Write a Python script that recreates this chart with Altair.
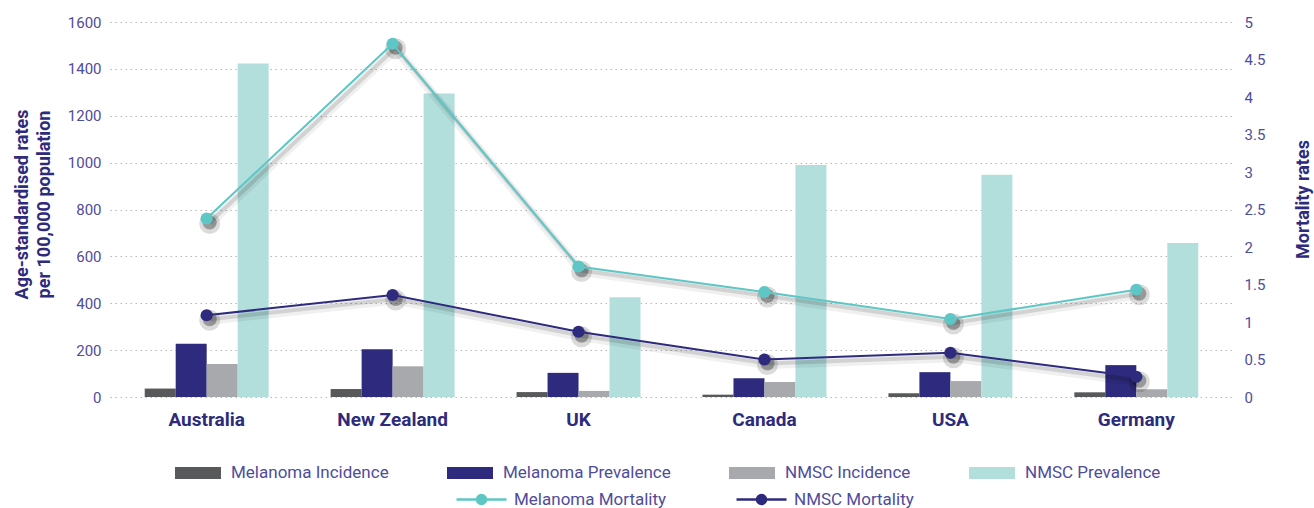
import altair as alt
import pandas as pd

countries = ["Australia", "New Zealand", "UK", "Canada", "USA", "Germany"]
melanoma_incidence = [36, 34, 21, 10, 16, 20]
melanoma_prevalence = [227, 204, 103, 80, 106, 136]
nmsc_incidence = [141, 131, 26, 64, 68, 33]
nmsc_prevalence = [1423, 1295, 426, 990, 948, 657]
melanoma_mortality = [2.38, 4.71, 1.74, 1.40, 1.04, 1.43]
nmsc_mortality = [1.09, 1.36, 0.87, 0.50, 0.59, 0.27]

bar_series = ["Melanoma Incidence", "Melanoma Prevalence", "NMSC Incidence", "NMSC Prevalence"]
bar_colors = ["#58595b", "#2e2a7d", "#a7a9ac", "#b2dfdc"]
line_series = ["Melanoma Mortality", "NMSC Mortality"]
line_colors = ["#5ec6c5", "#2e2a7d"]

left_ticks = [0, 200, 400, 600, 800, 1000, 1200, 1400, 1600]
right_ticks = [0, 0.5, 1, 1.5, 2, 2.5, 3, 3.5, 4, 4.5, 5]

bar_values = [melanoma_incidence, melanoma_prevalence, nmsc_incidence, nmsc_prevalence]
bars_df = pd.DataFrame(
    [{"country": c, "series": s, "value": v}
     for s, vals in zip(bar_series, bar_values) for c, v in zip(countries, vals)]
)
line_values = [melanoma_mortality, nmsc_mortality]
lines_df = pd.DataFrame(
    [{"country": c, "measure": s, "value": v}
     for s, vals in zip(line_series, line_values) for c, v in zip(countries, vals)]
)

FONT = "Roboto"
DARK = "#2e2a7c"
LABEL = "#4f4c9b"

x_enc = alt.X(
    "country:N", sort=countries,
    scale=alt.Scale(paddingInner=0, paddingOuter=0.02),
    axis=alt.Axis(title=None, labelAngle=0, labelFont=FONT, labelFontSize=19,
                  labelFontWeight="bold", labelColor=DARK, labelPadding=13,
                  domain=False, ticks=False, grid=False),
)

bars = alt.Chart(bars_df).mark_bar().encode(
    x=x_enc,
    xOffset=alt.XOffset("series:N", sort=bar_series,
                        scale=alt.Scale(paddingInner=0, paddingOuter=1)),
    y=alt.Y("value:Q", scale=alt.Scale(domain=[0, 1600], nice=False),
            axis=alt.Axis(values=left_ticks, format="d",
                          title=["Age-standardised rates", "per 100,000 population"],
                          titleFont=FONT, titleFontSize=18, titleFontWeight="bold",
                          titleColor=DARK, titleLineHeight=22, titlePadding=14,
                          titleY=182,
                          labelFont=FONT, labelFontSize=15, labelColor=LABEL,
                          labelPadding=9, domain=False, ticks=False,
                          grid=True, gridColor="#b8b8b8", gridDash=[1.5, 3.5],
                          gridWidth=1.2)),
    color=alt.Color("series:N", sort=bar_series,
                    scale=alt.Scale(domain=bar_series, range=bar_colors),
                    legend=alt.Legend(orient="none", legendX=65, legendY=428,
                                      direction="horizontal", columns=4, title=None,
                                      symbolType="M-1,-0.26H1V0.26H-1Z", symbolSize=2116,
                                      symbolStrokeWidth=0, labelFont=FONT,
                                      labelFontSize=17, labelColor=LABEL, labelOffset=10,
                                      labelLimit=300, columnPadding=58, gridAlign="each")),
)

y_right = alt.Y("value:Q", scale=alt.Scale(domain=[0, 5], nice=False),
                axis=alt.Axis(orient="right", values=right_ticks, format="~g",
                              title="Mortality rates", titleFont=FONT, titleFontSize=18,
                              titleFontWeight="bold", titleColor=DARK, titleAngle=270,
                              titleBaseline="top", titlePadding=30, titleY=177,
                              labelFont=FONT, labelFontSize=15, labelColor=LABEL,
                              labelPadding=11, domain=False, ticks=False, grid=False))

line_legend = alt.Legend(orient="none", legendX=345, legendY=451, direction="horizontal",
                         columns=2, title=None,
                         symbolType="M-1,0H1M0.18,0A0.18,0.18,0,1,1,-0.18,0A0.18,0.18,0,1,1,0.18,0Z",
                         symbolSize=2500, symbolStrokeWidth=2.5, labelFont=FONT,
                         labelFontSize=17, labelColor=LABEL, labelOffset=6,
                         labelLimit=300, columnPadding=64, gridAlign="each")

base = alt.Chart(lines_df).encode(x=x_enc, y=y_right, detail="measure:N")

shadow1 = base.mark_line(color="#000000", opacity=0.06, strokeWidth=9, xOffset=3, yOffset=5)
shadow2 = base.mark_line(color="#000000", opacity=0.12, strokeWidth=4, xOffset=3, yOffset=4)
pshadow1 = base.mark_circle(color="#000000", opacity=0.14, size=440, xOffset=3, yOffset=5)
pshadow2 = base.mark_circle(color="#000000", opacity=0.30, size=200, xOffset=3, yOffset=4)

stroke_enc = alt.Stroke("measure:N", sort=line_series,
                        scale=alt.Scale(domain=line_series, range=line_colors),
                        legend=line_legend)
fill_enc = alt.Fill("measure:N", sort=line_series,
                    scale=alt.Scale(domain=line_series, range=line_colors),
                    legend=line_legend)

lines = base.mark_line(strokeWidth=2).encode(stroke=stroke_enc)
points = base.mark_point(filled=True, size=150, opacity=1, strokeWidth=0).encode(
    fill=fill_enc, stroke=stroke_enc)

line_layer = alt.layer(shadow1, shadow2, pshadow1, pshadow2, lines, points)

chart = alt.layer(bars, line_layer).resolve_scale(y="independent").properties(
    width=1123, height=375,
    padding={"left": 110, "top": 22, "right": 81, "bottom": 111},
    autosize=alt.AutoSizeParams(type="none"),
    background="white",
).configure_view(stroke=None)

chart.save("out.html", embed_options={"renderer": "svg", "actions": False})
